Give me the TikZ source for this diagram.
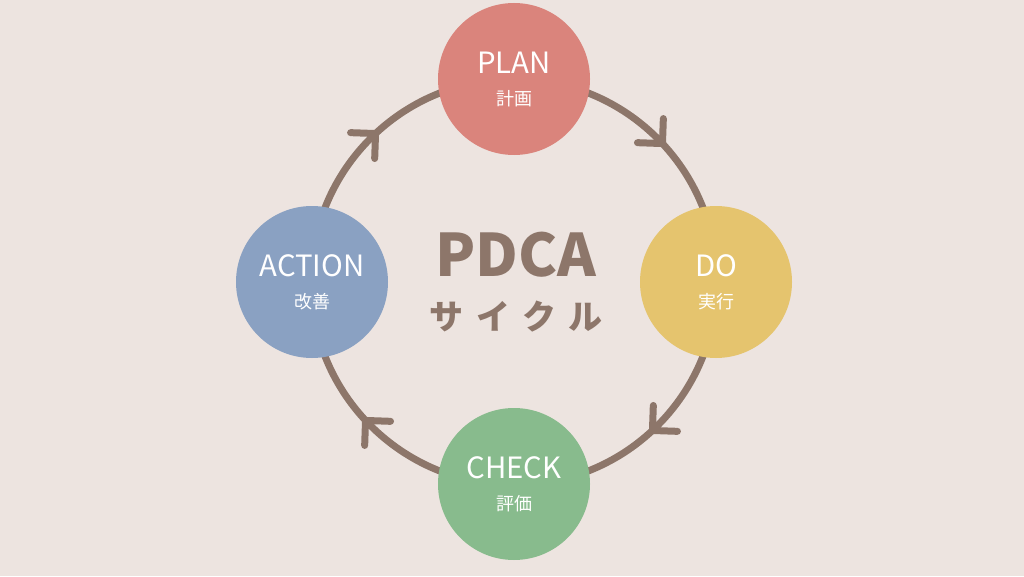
\documentclass[tikz,border=0pt]{standalone}
\usepackage{fontspec}
\setmainfont{Noto Sans CJK JP}
\usetikzlibrary{calc}

\definecolor{bgcol}{HTML}{EDE4E0}
\definecolor{ringcol}{HTML}{8D766A}
\definecolor{plancol}{HTML}{DA847C}
\definecolor{docol}{HTML}{E5C46E}
\definecolor{checkcol}{HTML}{88BB8D}
\definecolor{actcol}{HTML}{8AA1C2}

\tikzset{
  stage/.style={circle,fill=#1,minimum size=114pt,inner sep=0pt,
    text=white,align=center,font=\fontsize{22}{26}\selectfont},
  ring/.style={draw=ringcol,line width=5.25pt},
  chev/.style={ring,line cap=round,line join=round},
}
\newcommand{\sub}[1]{{\fontsize{13.5}{16}\selectfont #1}}

\begin{document}
\begin{tikzpicture}[x=0.75pt,y=0.75pt]
\def\R{203}
\def\L{25}
\fill[bgcol] (0,0) rectangle (1024,576);
\useasboundingbox (0,0) rectangle (1024,576);
\coordinate (c) at (514,294);

\draw[ring] (c) circle (\R);
\foreach \a in {43,-47,-137,133}
  \draw[chev] ($(c)+(\a:\R)+(\a+45:\L)$) -- ($(c)+(\a:\R)$) -- ($(c)+(\a:\R)+(\a+135:\L)$);

\node[stage=plancol] (plan) at (514,497) {PLAN\\[-2pt]\sub{計画}};
\node[stage=docol] (do) at (716,294) {DO\\[-2pt]\sub{実行}};
\node[stage=checkcol] (check) at (514,92) {CHECK\\[-2pt]\sub{評価}};
\node[stage=actcol] (act) at (312,294) {ACTION\\[-2pt]\sub{改善}};

\node[text=ringcol,align=center,font=\fontsize{25.5}{40}\selectfont\bfseries]
  (title) at ($(c)+(2,0)$)
  {{\fontsize{44}{50}\selectfont PDCA}\\
   {\addfontfeature{LetterSpace=38}サイクル}};
\end{tikzpicture}
\end{document}
